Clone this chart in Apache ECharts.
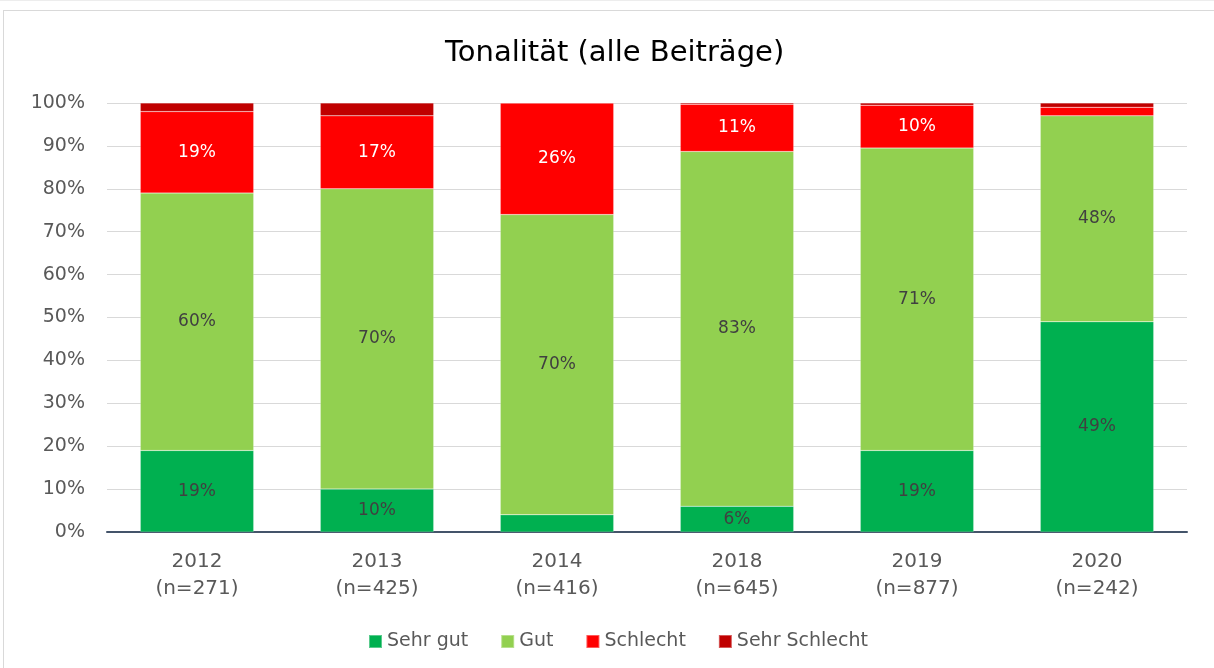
<!DOCTYPE html>
<html>
<head>
<meta charset="utf-8">
<script src="https://cdn.jsdelivr.net/npm/echarts@6/dist/echarts.min.js"></script>
<style>
  html, body { margin: 0; padding: 0; background: #fff; overflow: hidden; }
  #topline { position: absolute; left: 0; top: 0; width: 1214px; height: 1px; background: #ededed; }
  #frame { position: absolute; left: 3px; top: 10px; width: 1240px; height: 700px; border: 1px solid #d9d9d9; box-sizing: border-box; }
  #chart { position: absolute; left: 0; top: 0; width: 1214px; height: 668px; }
</style>
</head>
<body>
<div id="topline"></div>
<div id="frame"></div>
<div id="chart"></div>
<script>
// Jahre und Stichprobengrößen
var years = ['2012', '2013', '2014', '2018', '2019', '2020']
var sampleSizes = [271, 425, 416, 645, 877, 242]

// Anteile in %
var sehrGut = [19, 10, 4, 6, 19, 49]
var gut = [60, 70, 70, 82.7, 70.5, 48]
var schlecht = [19, 17, 26, 11, 10, 2]
var sehrSchlecht = [2, 3, 0, 0.3, 0.5, 1]

var yTicks = [0, 10, 20, 30, 40, 50, 60, 70, 80, 90, 100]

var categories = years.map(function (y, i) {
  return y + '\n(n=' + sampleSizes[i] + ')'
})

var fontFamily = '"DejaVu Sans", "Liberation Sans", sans-serif'

function pctLabel (p) {
  return p.value >= 5 ? Math.round(p.value) + '%' : ''
}

function makeSeries (name, data, color, labelColor) {
  return {
    name: name,
    type: 'bar',
    stack: 'total',
    barWidth: '63%',
    data: data,
    itemStyle: {
      color: color,
      borderColor: 'rgba(255,255,255,0.35)',
      borderWidth: 0.5
    },
    label: {
      show: true,
      position: 'inside',
      formatter: pctLabel,
      color: labelColor,
      fontSize: 17,
      fontFamily: fontFamily
    }
  }
}

var myChart = echarts.init(document.getElementById('chart'), null, { renderer: 'canvas' })
var option = {
  animation: false,
  title: {
    text: 'Tonalität (alle Beiträge)',
    left: 440,
    top: 34,
    textStyle: {
      fontSize: 29,
      fontWeight: 'normal',
      color: '#000',
      fontFamily: fontFamily
    }
  },
  legend: {
    bottom: 12,
    left: 363,
    itemWidth: 13,
    itemHeight: 13,
    itemGap: 32,
    icon: 'rect',
    textStyle: {
      fontSize: 19,
      color: '#595959',
      fontFamily: fontFamily
    },
    data: ['Sehr gut', 'Gut', 'Schlecht', 'Sehr Schlecht']
  },
  grid: {
    left: 107,
    right: 27,
    top: 103,
    bottom: 136,
    containLabel: false
  },
  xAxis: {
    type: 'category',
    data: categories,
    axisLine: {
      lineStyle: { color: '#44546a', width: 2 }
    },
    axisTick: { show: false },
    axisLabel: {
      margin: 16,
      fontSize: 20,
      lineHeight: 27,
      color: '#595959',
      fontFamily: fontFamily
    }
  },
  yAxis: {
    type: 'value',
    min: yTicks[0],
    max: yTicks[yTicks.length - 1],
    interval: 10,
    axisLine: { show: false },
    axisTick: { show: false },
    splitLine: {
      lineStyle: { color: '#d9d9d9', width: 1 }
    },
    axisLabel: {
      margin: 22,
      formatter: '{value}%',
      fontSize: 19,
      color: '#595959',
      fontFamily: fontFamily
    }
  },
  series: [
    makeSeries('Sehr gut', sehrGut, '#00b050', '#404040'),
    makeSeries('Gut', gut, '#92d050', '#404040'),
    makeSeries('Schlecht', schlecht, '#ff0000', '#ffffff'),
    makeSeries('Sehr Schlecht', sehrSchlecht, '#c00000', '#ffffff')
  ]
}
myChart.setOption(option)
</script>
</body>
</html>
